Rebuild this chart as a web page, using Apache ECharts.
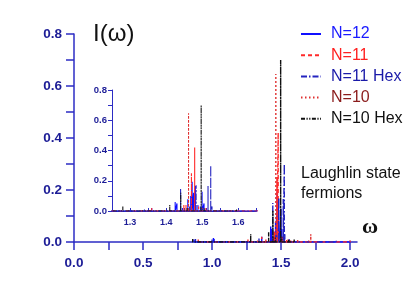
<!DOCTYPE html>
<html><head><meta charset="utf-8">
<script src="https://cdn.jsdelivr.net/npm/echarts@6/dist/echarts.min.js"></script>
<style>html,body{margin:0;padding:0;background:#fff}#c{width:415px;height:291px}</style>
</head><body><div id="c"></div>
<script>
// Spike positions (omega) and intensities for each system
const n12X = [0.87, 1.01, 1.015, 1.36, 1.425, 1.43, 1.445, 1.46, 1.468, 1.472, 1.476, 1.481, 1.488, 1.4995, 1.505, 1.512, 1.56, 1.6, 1.85, 1.95, 2.0];
const n12Y = [0.01, 0.015, 0.012, 0.02, 0.06, 0.05, 0.02, 0.077, 0.1, 0.194, 0.12, 0.165, 0.04, 0.128, 0.05, 0.02, 0.01, 0.005, 0.005, 0.005, 0.005];
const n11X = [0.9, 1.26, 1.36, 1.39, 1.449, 1.455, 1.47, 1.479, 1.49, 1.51, 1.54, 1.57, 1.62, 1.7, 1.8, 1.9, 2.0];
const n11Y = [0.01, 0.01, 0.02, 0.01, 0.04, 0.04, 0.25, 0.42, 0.03, 0.02, 0.01, 0.008, 0.008, 0.01, 0.006, 0.006, 0.006];
const n11hX = [0.88, 1.0, 1.34, 1.44, 1.465, 1.483, 1.495, 1.516, 1.5235, 1.527, 1.56, 1.9];
const n11hY = [0.012, 0.01, 0.015, 0.15, 0.03, 0.17, 0.03, 0.165, 0.30, 0.03, 0.01, 0.005];
const n10X = [1.33, 1.41, 1.462, 1.47, 1.5, 1.55, 1.715, 1.75];
const n10Y = [0.01, 0.01, 0.646, 0.03, 0.02, 0.01, 0.03, 0.005];
const n10hX = [0.86, 1.28, 1.41, 1.4405, 1.458, 1.497, 1.505, 1.555, 1.595];
const n10hY = [0.012, 0.03, 0.04, 0.12, 0.02, 0.70, 0.02, 0.01, 0.01];

const mainYTicks = [0, 0.2, 0.4, 0.6, 0.8];
const mainXTicks = [0, 0.5, 1.0, 1.5, 2.0];
const insetXTicks = [1.3, 1.4, 1.5, 1.6];

function spikes(xs, ys) {
  const out = [];
  for (let i = 0; i < xs.length; i++) {
    out.push([xs[i], 0], [xs[i], ys[i]], [xs[i], 0]);
  }
  return out;
}

const FONT = 'Liberation Sans, Arial, sans-serif';
const AX = '#2c2cc4';
const LB = '#1c1c96';
const defs = [
  {name: 'N=12', xs: n12X, ys: n12Y, color: '#1010ff', type: 'solid', text: '#1a1aff'},
  {name: 'N=11', xs: n11X, ys: n11Y, color: '#ff2a2a', type: [4, 3], text: '#ff2020'},
  {name: 'N=11 Hex', xs: n11hX, ys: n11hY, color: '#2424c0', type: [6, 2, 1.5, 2], text: '#1a1aa8'},
  {name: 'N=10', xs: n10X, ys: n10Y, color: '#e03030', type: [1.5, 2.5], text: '#8b1c1c'},
  {name: 'N=10 Hex', xs: n10hX, ys: n10hY, color: '#111111', type: [4, 1.5, 1.2, 1.5, 1.2, 1.5], text: '#111111'}
];

function fmtIf(list) {
  return function (v) {
    for (const t of list) if (Math.abs(v - t) < 1e-6) return v.toFixed(1);
    return '';
  };
}

const series = [];
defs.forEach(function (d) {
  [0, 1].forEach(function (g) {
    series.push({
      name: d.name, type: 'line', xAxisIndex: g, yAxisIndex: g,
      data: spikes(d.xs, d.ys), symbol: 'none', showSymbol: false, clip: true,
      lineStyle: {color: d.color, width: g === 0 ? 1.4 : 1.1, type: d.type},
      itemStyle: {color: d.color}
    });
  });
});

const chart = echarts.init(document.getElementById('c'), null, {renderer: 'canvas'});
chart.setOption({
  animation: false,
  backgroundColor: '#fff',
  grid: [
    {left: 74, top: 34, width: 283, height: 208},
    {left: 112, top: 90, width: 144.4, height: 121}
  ],
  xAxis: [
    {type: 'value', gridIndex: 0, min: 0, max: 2.05, interval: 0.25,
     axisLine: {lineStyle: {color: AX, width: 1.5}},
     axisTick: {show: true, inside: false, length: 8, lineStyle: {color: AX, width: 1.5}},
     splitLine: {show: false},
     axisLabel: {formatter: fmtIf(mainXTicks), color: LB, fontWeight: 'bold', fontSize: 13.5, fontFamily: FONT, margin: 14, showMaxLabel: false}},
    {type: 'value', gridIndex: 1, min: 1.25, max: 1.65, interval: 0.05,
     axisLine: {lineStyle: {color: AX, width: 1}},
     axisTick: {show: true, inside: true, length: 3, lineStyle: {color: AX, width: 1}},
     splitLine: {show: false},
     axisLabel: {formatter: fmtIf(insetXTicks), color: LB, fontWeight: 'bold', fontSize: 9, fontFamily: FONT, margin: 7}}
  ],
  yAxis: [
    {type: 'value', gridIndex: 0, min: 0, max: 0.8, interval: 0.1,
     axisLine: {show: true, lineStyle: {color: AX, width: 1.5}},
     axisTick: {show: true, length: 8, lineStyle: {color: AX, width: 1.5}},
     splitLine: {show: false},
     axisLabel: {formatter: fmtIf(mainYTicks), color: LB, fontWeight: 'bold', fontSize: 13.5, fontFamily: FONT, margin: 12}},
    {type: 'value', gridIndex: 1, min: 0, max: 0.8, interval: 0.1,
     axisLine: {show: true, lineStyle: {color: AX, width: 1}},
     axisTick: {show: true, length: 4, lineStyle: {color: AX, width: 1}},
     splitLine: {show: false},
     axisLabel: {formatter: fmtIf(mainYTicks), color: LB, fontWeight: 'bold', fontSize: 9.5, fontFamily: FONT, margin: 5}}
  ],
  legend: {
    orient: 'vertical', left: 300, top: 26, padding: 0, itemWidth: 20, itemHeight: 14, itemGap: 5.2,
    itemStyle: {color: 'rgba(0,0,0,0)', borderWidth: 0, opacity: 0},
    textStyle: {fontSize: 16, fontFamily: FONT, lineHeight: 16, padding: [0, 0, 0, 5]},
    data: defs.map(function (d) { return {name: d.name, textStyle: {color: d.text}}; })
  },
  graphic: [
    {type: 'text', left: 93, top: 22, style: {text: 'I(ω)', font: '24px ' + FONT, fill: '#111'}},
    {type: 'text', left: 362, top: 216, style: {text: 'ω', font: 'bold 22px Liberation Serif, serif', fill: '#111'}},
    {type: 'text', left: 301, top: 166, style: {text: 'Laughlin state', font: '16px ' + FONT, fill: '#111'}},
    {type: 'text', left: 301, top: 186, style: {text: 'fermions', font: '16px ' + FONT, fill: '#111'}}
  ],
  series: series
});
</script></body></html>
